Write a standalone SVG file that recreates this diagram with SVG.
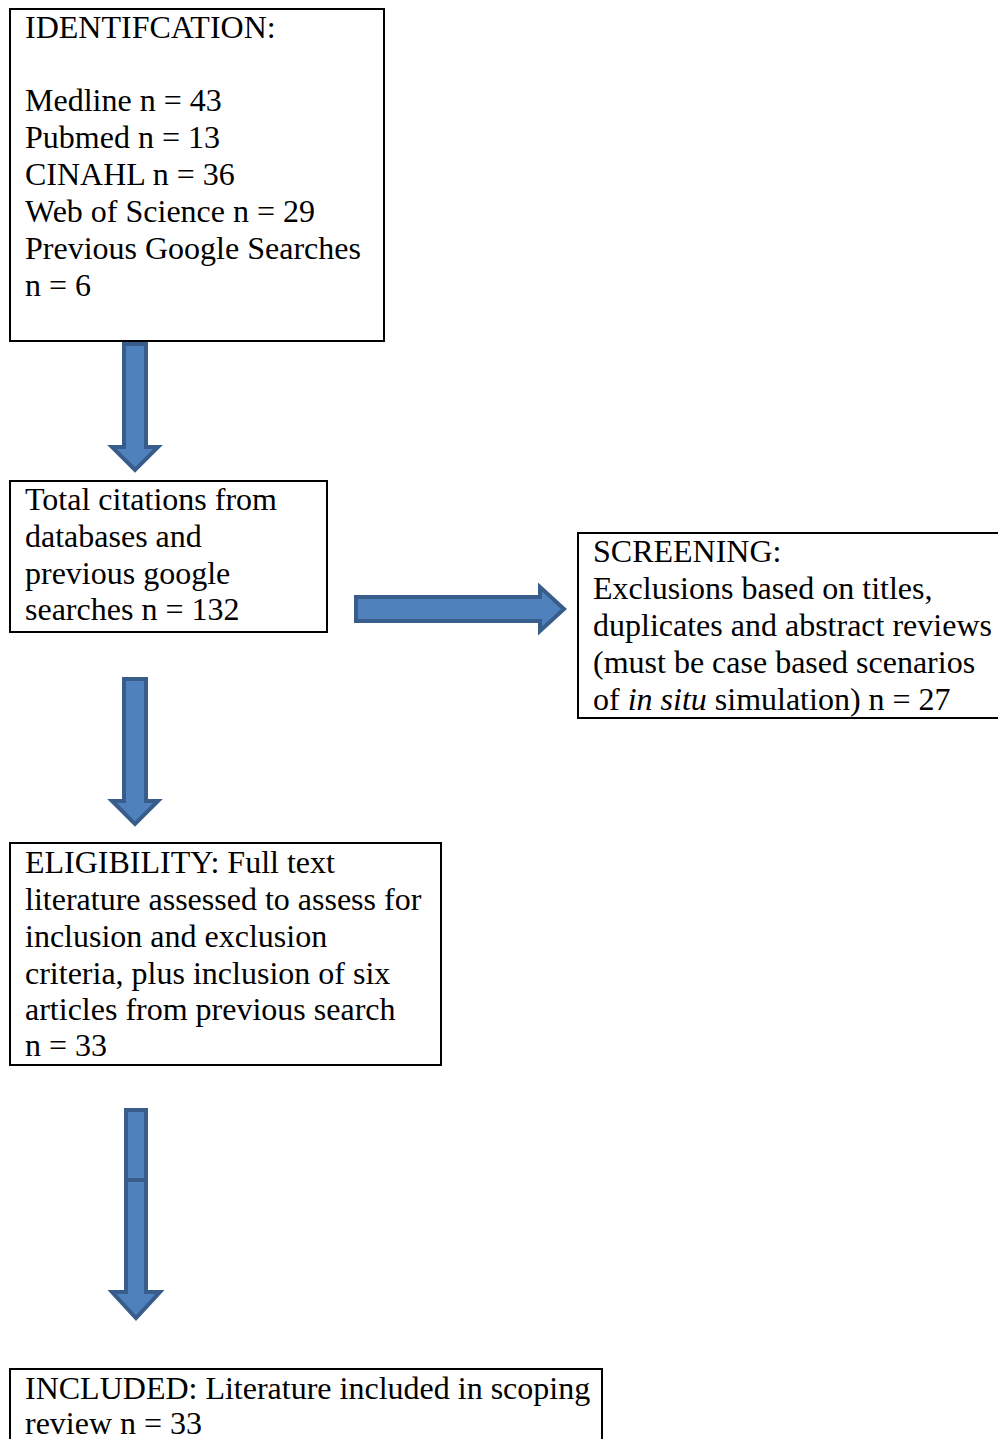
<svg xmlns="http://www.w3.org/2000/svg" width="998" height="1439" viewBox="0 0 998 1439">
<style>
.box{fill:#fff;stroke:#000;stroke-width:2}
.t{font-family:"Liberation Serif","Times New Roman",serif;font-size:32px;fill:#000}
.arr{fill:#4F81BD;stroke:#385D8A;stroke-width:4;stroke-linejoin:miter}
</style>
<rect width="998" height="1439" fill="#fff"/>
<g id="identification">
<rect class="box" x="10" y="9" width="374" height="332"/>
<text class="t" x="25" y="38">IDENTIFCATION:</text>
<text class="t" x="25" y="111">Medline n = 43</text>
<text class="t" x="25" y="148">Pubmed n = 13</text>
<text class="t" x="25" y="185">CINAHL n = 36</text>
<text class="t" x="25" y="222">Web of Science n = 29</text>
<text class="t" x="25" y="259">Previous Google Searches</text>
<text class="t" x="25" y="296">n = 6</text>
</g>
<g id="total">
<rect class="box" x="10" y="481" width="317" height="151"/>
<text class="t" x="25" y="510">Total citations from</text>
<text class="t" x="25" y="547">databases and</text>
<text class="t" x="25" y="584">previous google</text>
<text class="t" x="25" y="620">searches n = 132</text>
</g>
<g id="screening">
<rect class="box" x="578" y="533" width="430" height="185"/>
<text class="t" x="593" y="562">SCREENING:</text>
<text class="t" x="593" y="599">Exclusions based on titles,</text>
<text class="t" x="593" y="636">duplicates and abstract reviews</text>
<text class="t" x="593" y="673">(must be case based scenarios</text>
<text class="t" x="593" y="710">of <tspan font-style="italic">in situ</tspan> simulation) n = 27</text>
</g>
<g id="eligibility">
<rect class="box" x="10" y="843" width="431" height="222"/>
<text class="t" x="25" y="873">ELIGIBILITY: Full text</text>
<text class="t" x="25" y="910">literature assessed to assess for</text>
<text class="t" x="25" y="947">inclusion and exclusion</text>
<text class="t" x="25" y="984">criteria, plus inclusion of six</text>
<text class="t" x="25" y="1020">articles from previous search</text>
<text class="t" x="25" y="1056">n = 33</text>
</g>
<g id="included">
<rect class="box" x="10" y="1369" width="592" height="90"/>
<text class="t" x="25" y="1399">INCLUDED: Literature included in scoping</text>
<text class="t" x="25" y="1434">review n = 33</text>
</g>
<g id="connectors">
<path class="arr" d="M124,344 L146,344 L146,447 L158,447 L135,470 L112,447 L124,447 Z"/>
<path class="arr" d="M356,597 L540,597 L540,587 L564,609 L540,631 L540,621 L356,621 Z"/>
<path class="arr" d="M124,679 L146,679 L146,801 L158,801 L135,824 L112,801 L124,801 Z"/>
<path class="arr" d="M126,1110 L146,1110 L146,1292 L160,1292 L136,1318 L112,1292 L126,1292 Z"/>
<line x1="126" y1="1180" x2="146" y2="1180" stroke="#385D8A" stroke-width="4"/>
</g>
</svg>
